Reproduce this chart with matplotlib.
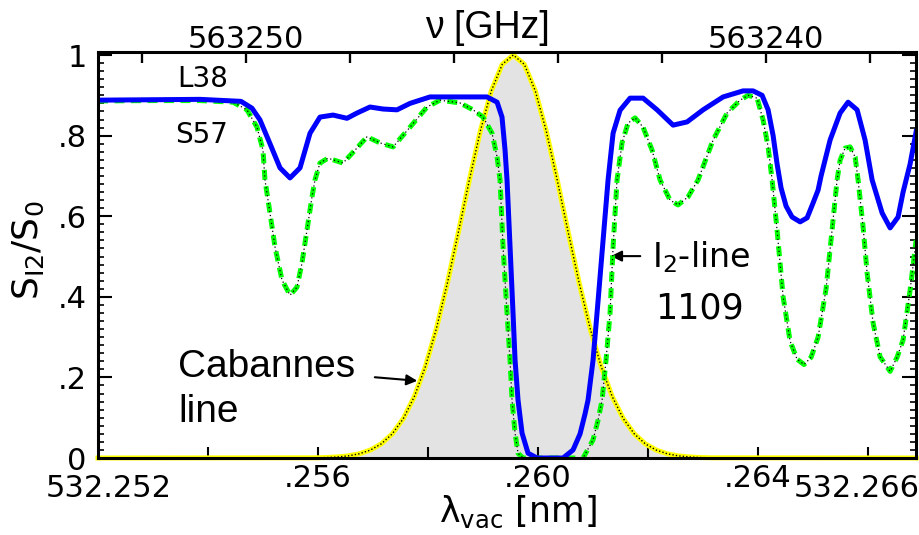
"""I2 filter transmission (L38 / S57) against the Cabannes line around 532.26 nm."""
import matplotlib
matplotlib.use("Agg")
import matplotlib.pyplot as plt
from matplotlib.ticker import FixedLocator, FixedFormatter, MultipleLocator
import numpy as np

LAM0 = 532.252           # nm, left edge of the scan
LAM1 = 532.26687         # nm, right edge
C_NM_GHZ = 299792458.0   # c in nm*GHz  ->  nu[GHz] = C / lambda[nm]

# L38 transmission (solid blue); x = offset from LAM0 in pm
l38_dlam = [0.000, 0.945, 1.855, 2.600, 2.800, 2.945, 3.127, 3.309, 3.491, 3.673,
            3.855, 4.036, 4.273, 4.527, 4.709, 4.945, 5.182, 5.436, 5.673, 6.036,
            6.582, 7.073, 7.255, 7.345, 7.400, 7.436, 7.491, 7.545, 7.582, 7.636,
            7.709, 7.818, 7.982, 8.455, 8.636, 8.764, 8.855, 8.909, 9.000, 9.091,
            9.182, 9.273, 9.364, 9.491, 9.673, 9.909, 10.164, 10.455, 10.709, 11.000,
            11.364, 11.727, 11.909, 12.073, 12.182, 12.273, 12.345, 12.418, 12.509, 12.618,
            12.764, 12.891, 13.000, 13.091, 13.145, 13.309, 13.491, 13.636, 13.800, 13.945,
            14.073, 14.255, 14.400, 14.545, 14.636, 14.764, 14.873]
l38_val = [0.888, 0.889, 0.890, 0.885, 0.868, 0.839, 0.780, 0.720, 0.695, 0.720,
           0.806, 0.846, 0.851, 0.843, 0.856, 0.871, 0.866, 0.864, 0.880, 0.896,
           0.896, 0.896, 0.883, 0.846, 0.764, 0.690, 0.524, 0.360, 0.243, 0.144,
           0.062, 0.012, 0.000, 0.000, 0.020, 0.060, 0.110, 0.144, 0.243, 0.390,
           0.540, 0.690, 0.806, 0.863, 0.893, 0.893, 0.864, 0.826, 0.834, 0.864,
           0.896, 0.911, 0.911, 0.900, 0.864, 0.800, 0.730, 0.670, 0.625, 0.598,
           0.586, 0.596, 0.633, 0.665, 0.700, 0.789, 0.856, 0.883, 0.864, 0.789,
           0.690, 0.608, 0.571, 0.598, 0.660, 0.730, 0.810]

# S57 transmission (green dashed)
s57_dlam = [0.000, 0.945, 1.855, 2.455, 2.709, 2.891, 3.000, 3.036, 3.127, 3.218,
            3.345, 3.491, 3.618, 3.709, 3.800, 3.891, 3.945, 4.036, 4.182, 4.455,
            4.673, 4.891, 5.127, 5.364, 5.673, 5.982, 6.218, 6.582, 6.818, 7.000,
            7.164, 7.255, 7.309, 7.364, 7.436, 7.491, 7.527, 7.582, 7.636, 7.727,
            8.818, 9.000, 9.091, 9.164, 9.236, 9.309, 9.364, 9.436, 9.527, 9.636,
            9.764, 9.909, 10.073, 10.218, 10.400, 10.545, 10.727, 10.909, 11.182, 11.436,
            11.673, 11.818, 11.982, 12.091, 12.182, 12.255, 12.345, 12.455, 12.582, 12.709,
            12.836, 12.964, 13.091, 13.236, 13.345, 13.436, 13.491, 13.582, 13.673, 13.764,
            13.818, 13.909, 13.982, 14.091, 14.218, 14.400, 14.527, 14.636, 14.764, 14.873]
s57_val = [0.886, 0.887, 0.887, 0.883, 0.864, 0.821, 0.764, 0.690, 0.608, 0.524,
           0.442, 0.404, 0.424, 0.484, 0.566, 0.648, 0.690, 0.732, 0.744, 0.732,
           0.764, 0.797, 0.782, 0.772, 0.821, 0.871, 0.888, 0.881, 0.864, 0.846,
           0.806, 0.747, 0.690, 0.524, 0.360, 0.243, 0.144, 0.062, 0.012, 0.000,
           0.000, 0.045, 0.094, 0.144, 0.243, 0.360, 0.524, 0.690, 0.782, 0.831,
           0.844, 0.821, 0.764, 0.690, 0.640, 0.628, 0.648, 0.690, 0.789, 0.856,
           0.888, 0.900, 0.893, 0.839, 0.772, 0.690, 0.566, 0.400, 0.290, 0.245,
           0.232, 0.250, 0.300, 0.420, 0.566, 0.690, 0.739, 0.769, 0.772, 0.747,
           0.690, 0.573, 0.459, 0.335, 0.251, 0.215, 0.250, 0.293, 0.417, 0.541]

# Cabannes (Rayleigh-Brillouin) line, normalised to its peak
cab_dlam = [0.00, 3.95, 4.15, 4.35, 4.55, 4.75, 4.95, 5.15, 5.35, 5.55,
            5.75, 5.95, 6.15, 6.35, 6.55, 6.75, 6.95, 7.15, 7.35, 7.55,
            7.75, 7.95, 8.15, 8.35, 8.55, 8.75, 8.95, 9.15, 9.35, 9.55,
            9.75, 9.95, 10.15, 10.35, 10.55, 10.75, 10.95, 11.15, 14.873]
cab_val = [0.0, 0.0005, 0.0012, 0.0026, 0.0053, 0.0105, 0.0196, 0.0351, 0.0599, 0.0976,
           0.152, 0.226, 0.320, 0.433, 0.559, 0.689, 0.811, 0.911, 0.977, 1.000,
           0.977, 0.911, 0.811, 0.689, 0.559, 0.433, 0.320, 0.226, 0.152, 0.0976,
           0.0599, 0.0351, 0.0196, 0.0105, 0.0053, 0.0026, 0.0012, 0.0005, 0.0]

x_major_pm = [2, 4, 6, 8, 10, 12, 14]
x_major_labels = ["", ".256", "", ".260", "", ".264", ""]
y_major = [0.0, 0.2, 0.4, 0.6, 0.8, 1.0]
y_major_labels = ["0", ".2", ".4", ".6", ".8", "1"]
nu_ticks = [563252, 563250, 563248, 563246, 563244, 563242, 563240, 563238]
nu_labels = ["", "563250", "", "", "", "", "563240", ""]


def lam(dpm):
    return LAM0 + np.asarray(dpm, dtype=float) / 1000.0


fig = plt.figure(figsize=(9.19, 5.35), dpi=100)
ax = fig.add_axes([0.1066, 0.1439, 0.8901, 0.7589])

ax.fill_between(lam(cab_dlam), cab_val, 0, color="#e3e3e3", lw=0, zorder=1)
ax.plot(lam(cab_dlam), cab_val, color="#ffff00", lw=3.6, zorder=2, clip_on=False)
ax.plot(lam(cab_dlam), cab_val, color="black", lw=1.0, ls=(0, (1, 1.5)), zorder=3, clip_on=False)
ax.plot(lam(s57_dlam), s57_val, color="#00ff00", lw=3.6, dashes=(2.0, 1.3), zorder=4)
ax.plot(lam(s57_dlam), s57_val, color="black", lw=0.9, ls=(0, (1, 2.2)), zorder=5)
ax.plot(lam(l38_dlam), l38_val, color="#0000ff", lw=3.6, zorder=6,
        solid_joinstyle="round")

ax.set_xlim(LAM0, LAM1)
ax.set_ylim(0, 1.0075)

for sp in ax.spines.values():
    sp.set_linewidth(2.2)
    sp.set_zorder(10)

# bottom: wavelength (major ticks); top: frequency, placed as minor ticks at c/nu
nu_pos = C_NM_GHZ / np.array(nu_ticks, dtype=float)
ax.xaxis.set_major_locator(FixedLocator(lam(x_major_pm)))
ax.xaxis.set_major_formatter(FixedFormatter(x_major_labels))
ax.xaxis.set_minor_locator(FixedLocator(nu_pos))
ax.xaxis.set_minor_formatter(FixedFormatter(nu_labels))
ax.tick_params(axis="x", which="major", direction="in", length=8, width=1.5,
               labelsize=22, pad=4, top=False, bottom=True)
ax.tick_params(axis="x", which="minor", direction="in", length=8, width=1.5,
               labelsize=22, pad=-1.5, top=True, bottom=False,
               labeltop=True, labelbottom=False)
# inward tick marks of the frequency axis
ax.vlines(nu_pos, 0.974, 1.0, transform=ax.get_xaxis_transform(), color="black",
          lw=1.6, zorder=11)

ax.yaxis.set_major_locator(FixedLocator(y_major))
ax.yaxis.set_major_formatter(FixedFormatter(y_major_labels))
ax.yaxis.set_minor_locator(MultipleLocator(0.02))
ax.tick_params(axis="y", which="major", direction="in", length=10, width=1.5,
               labelsize=22, pad=8, left=True, right=True)
ax.tick_params(axis="y", which="minor", direction="in", length=4, width=1.2,
               left=True, right=True)

# end labels of the wavelength axis sit a little lower
ax.text(LAM0 + 0.0002, -0.040, "532.252", transform=ax.get_xaxis_transform(),
        ha="center", va="top", fontsize=22)
ax.text(LAM0 + 0.0138, -0.040, "532.266", transform=ax.get_xaxis_transform(),
        ha="center", va="top", fontsize=22)

ax.text(0.4756, 1.059, "ν [GHz]", transform=ax.transAxes, ha="center", va="center",
        fontsize=27, family="Liberation Sans")
ax.text(0.5134, -0.133, "λ$_{\\rm vac}$ [nm]", transform=ax.transAxes,
        ha="center", va="center", fontsize=25)
ax.text(-0.0856, 0.512, r"S$_{\rm I2}$/S$_0$", transform=ax.transAxes, rotation=90,
        ha="center", va="center", fontsize=26)

ax.text(lam(1.909), 0.921, "L38", ha="center", va="baseline", fontsize=20)
ax.text(lam(1.891), 0.782, "S57", ha="center", va="baseline", fontsize=20)

ax.text(lam(1.455), 0.201, "Cabannes", ha="left", va="baseline", fontsize=28,
        family="Liberation Sans")
ax.text(lam(1.455), 0.089, "line", ha="left", va="baseline", fontsize=28,
        family="Liberation Sans")
ax.annotate("", xy=(lam(5.855), 0.191), xytext=(lam(4.982), 0.201),
            arrowprops=dict(arrowstyle="-|>", color="black", lw=1.5, mutation_scale=16))

ax.text(lam(10.073), 0.474, r"I$_2$-line", ha="left", va="baseline", fontsize=24)
ax.text(lam(10.127), 0.347, "1109", ha="left", va="baseline", fontsize=25)
ax.annotate("", xy=(lam(9.273), 0.501), xytext=(lam(9.909), 0.501),
            arrowprops=dict(arrowstyle="-|>", color="black", lw=1.5, mutation_scale=16))

fig.savefig("out.png", dpi=100)
